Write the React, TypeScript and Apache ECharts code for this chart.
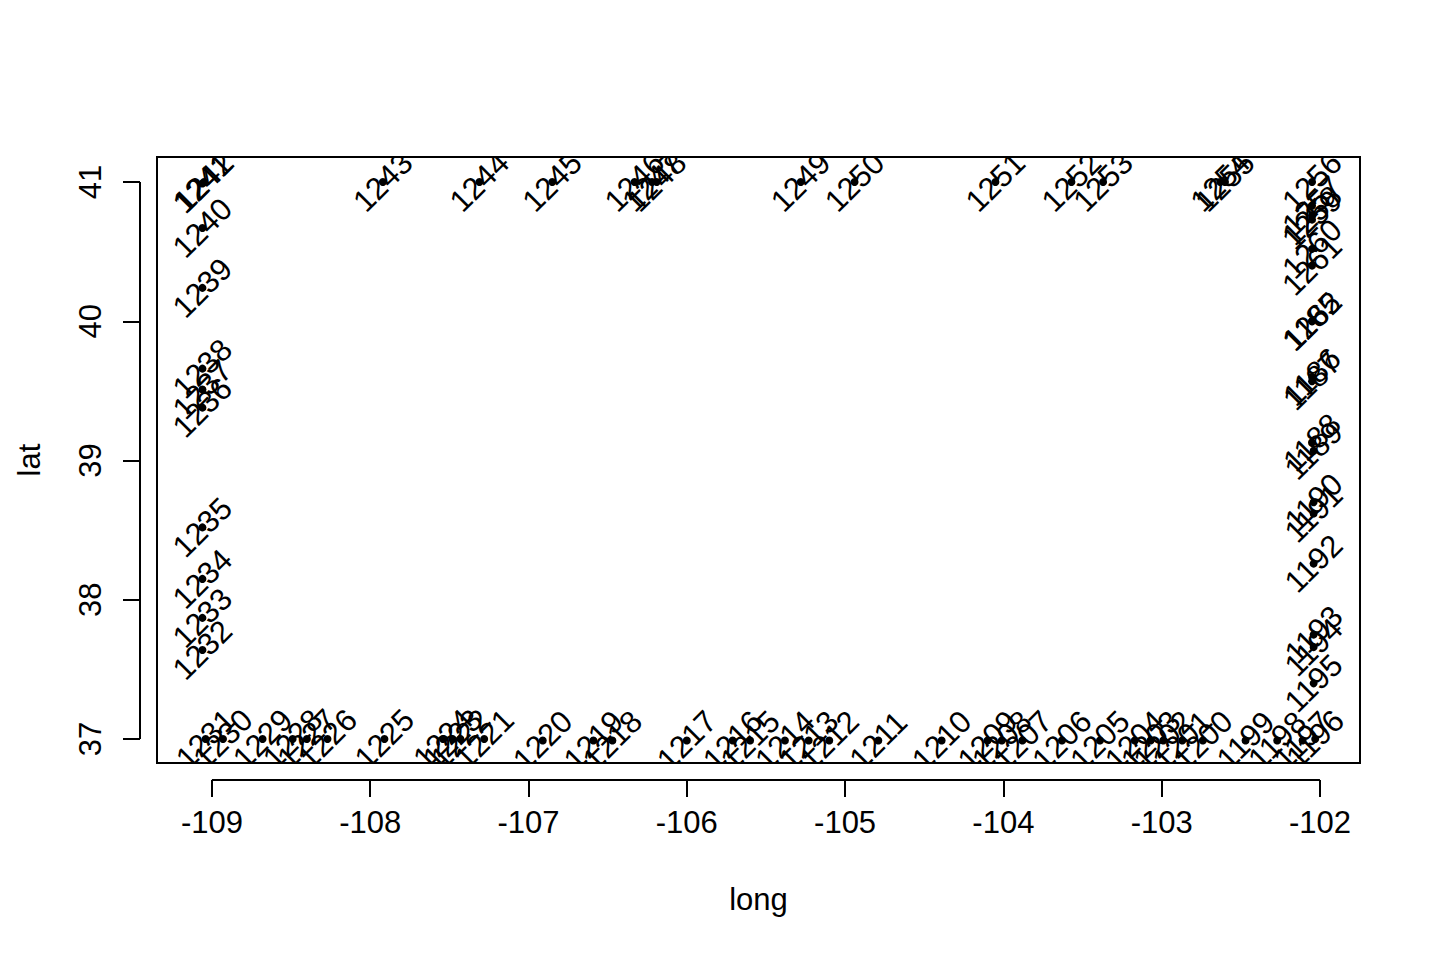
import React, { useEffect, useRef } from "react";
import * as echarts from "echarts";

const pointIds = [
  1185, 1186, 1187, 1188, 1189, 1190, 1191, 1192, 1193, 1194, 1195, 1196,
  1197, 1198, 1199, 1200, 1201, 1202, 1203, 1204, 1205, 1206, 1207, 1208,
  1209, 1210, 1211, 1212, 1213, 1214, 1215, 1216, 1217, 1218, 1219, 1220,
  1221, 1222, 1223, 1224, 1225, 1226, 1227, 1228, 1229, 1230, 1231, 1232,
  1233, 1234, 1235, 1236, 1237, 1238, 1239, 1240, 1241, 1242, 1243, 1244,
  1245, 1246, 1247, 1248, 1249, 1250, 1251, 1252, 1253, 1254, 1255, 1256,
  1257, 1258, 1259, 1260, 1261, 1262,
];

const longs = [
  -102.05, -102.05, -102.05, -102.05, -102.04, -102.04, -102.04, -102.04, -102.04, -102.04, -102.04, -102.03,
  -102.11, -102.27, -102.47, -102.74, -102.87, -102.99, -103.07, -103.17, -103.39, -103.63, -103.88, -104.01,
  -104.10, -104.39, -104.79, -105.10, -105.23, -105.38, -105.60, -105.71, -106.00, -106.47, -106.59, -106.91,
  -107.28, -107.43, -107.48, -107.54, -107.91, -108.27, -108.40, -108.49, -108.68, -108.93, -109.04, -109.06,
  -109.06, -109.06, -109.06, -109.06, -109.06, -109.06, -109.06, -109.06, -109.06, -109.05, -107.92, -107.31,
  -106.85, -106.33, -106.22, -106.19, -105.28, -104.94, -104.05, -103.57, -103.37, -102.63, -102.60, -102.05,
  -102.05, -102.05, -102.05, -102.05, -102.05, -102.05,
];

const lats = [
  40.0, 39.6, 39.57, 39.13, 39.07, 38.7, 38.62, 38.26, 37.75, 37.66, 37.4, 37.0,
  36.99, 36.99, 36.99, 36.99, 36.99, 36.99, 36.99, 36.99, 36.99, 36.99, 36.99, 36.99,
  36.99, 36.99, 36.99, 36.99, 36.99, 36.99, 36.99, 36.99, 36.99, 36.99, 36.99, 36.99,
  37.0, 37.0, 37.0, 37.0, 37.0, 37.0, 37.0, 37.0, 37.0, 37.0, 37.0, 37.64,
  37.87, 38.15, 38.52, 39.38, 39.51, 39.66, 40.24, 40.67, 40.99, 41.0, 41.0, 41.0,
  41.0, 41.0, 41.0, 41.0, 41.0, 41.0, 41.0, 41.0, 41.0, 41.0, 41.0, 41.0,
  40.83, 40.76, 40.73, 40.52, 40.4, 40.0,
];

const xTicks = [-109, -108, -107, -106, -105, -104, -103, -102];
const yTicks = [37, 38, 39, 40, 41];
const xRange = [-109.347, -101.747];
const yRange = [36.828, 41.18];

const FONT_FAMILY = '"Liberation Sans", Arial, Helvetica, sans-serif';
const FONT_SIZE = 31;

export default function App() {
  const ref = useRef<HTMLDivElement>(null);

  useEffect(() => {
    document.body.style.margin = "0";
    const chart = echarts.init(ref.current!, null, { renderer: "svg" });
    const font = `${FONT_SIZE}px ${FONT_FAMILY}`;
    const data = pointIds.map((id, i) => [longs[i], lats[i], id]);
    const AXIS_OFFSET = 17;

    chart.setOption({
      animation: false,
      backgroundColor: "#ffffff",
      grid: {
        left: 157,
        right: 80,
        top: 157,
        bottom: 197,
        show: true,
        borderColor: "#000",
        borderWidth: 2,
        backgroundColor: "transparent",
      },
      xAxis: {
        type: "value",
        min: xRange[0],
        max: xRange[1],
        offset: AXIS_OFFSET,
        name: "long",
        nameLocation: "middle",
        nameGap: 104,
        nameTextStyle: { color: "#000", fontSize: FONT_SIZE, fontFamily: FONT_FAMILY },
        axisLine: { show: false },
        axisTick: {
          show: true,
          customValues: xTicks,
          length: 17,
          lineStyle: { color: "#000", width: 2 },
        },
        axisLabel: {
          customValues: xTicks,
          formatter: (v: number) => String(v),
          margin: 27,
          color: "#000",
          fontSize: FONT_SIZE,
          fontFamily: FONT_FAMILY,
        },
        splitLine: { show: false },
      },
      yAxis: {
        type: "value",
        min: yRange[0],
        max: yRange[1],
        offset: AXIS_OFFSET,
        name: "lat",
        nameLocation: "middle",
        nameRotate: 90,
        nameGap: 95,
        nameTextStyle: { color: "#000", fontSize: FONT_SIZE, fontFamily: FONT_FAMILY },
        axisLine: { show: false },
        axisTick: {
          show: true,
          customValues: yTicks,
          length: 17,
          lineStyle: { color: "#000", width: 2 },
        },
        axisLabel: {
          customValues: yTicks,
          formatter: (v: number) => String(v),
          rotate: 90,
          margin: 34,
          color: "#000",
          fontSize: FONT_SIZE,
          fontFamily: FONT_FAMILY,
        },
        splitLine: { show: false },
      },
      series: [
        {
          type: "custom",
          clip: true,
          silent: true,
          data,
          encode: { x: 0, y: 1 },
          renderItem: (_params: any, api: any) => {
            const p = api.coord([api.value(0), api.value(1)]);
            return {
              type: "group",
              children: [
                {
                  type: "circle",
                  shape: { cx: p[0], cy: p[1], r: 4 },
                  style: { fill: "#000" },
                },
                {
                  type: "text",
                  x: p[0],
                  y: p[1],
                  rotation: Math.PI / 4,
                  style: {
                    text: String(api.value(2)),
                    align: "center",
                    verticalAlign: "middle",
                    font,
                    fill: "#000",
                  },
                },
              ],
            };
          },
        },
        {
          type: "custom",
          clip: false,
          silent: true,
          data: [[xTicks[0], yTicks[0]]],
          encode: { x: 0, y: 1 },
          renderItem: (_params: any, api: any) => {
            const x0 = api.coord([xTicks[0], yRange[0]]);
            const x1 = api.coord([xTicks[xTicks.length - 1], yRange[0]]);
            const y0 = api.coord([xRange[0], yTicks[0]]);
            const y1 = api.coord([xRange[0], yTicks[yTicks.length - 1]]);
            return {
              type: "group",
              children: [
                {
                  type: "line",
                  shape: { x1: x0[0], y1: x0[1] + AXIS_OFFSET, x2: x1[0], y2: x1[1] + AXIS_OFFSET },
                  style: { stroke: "#000", lineWidth: 2 },
                },
                {
                  type: "line",
                  shape: { x1: y0[0] - AXIS_OFFSET, y1: y0[1], x2: y1[0] - AXIS_OFFSET, y2: y1[1] },
                  style: { stroke: "#000", lineWidth: 2 },
                },
              ],
            };
          },
        },
      ],
    });

    return () => {
      chart.dispose();
    };
  }, []);

  return <div ref={ref} style={{ width: 1440, height: 960 }} />;
}
